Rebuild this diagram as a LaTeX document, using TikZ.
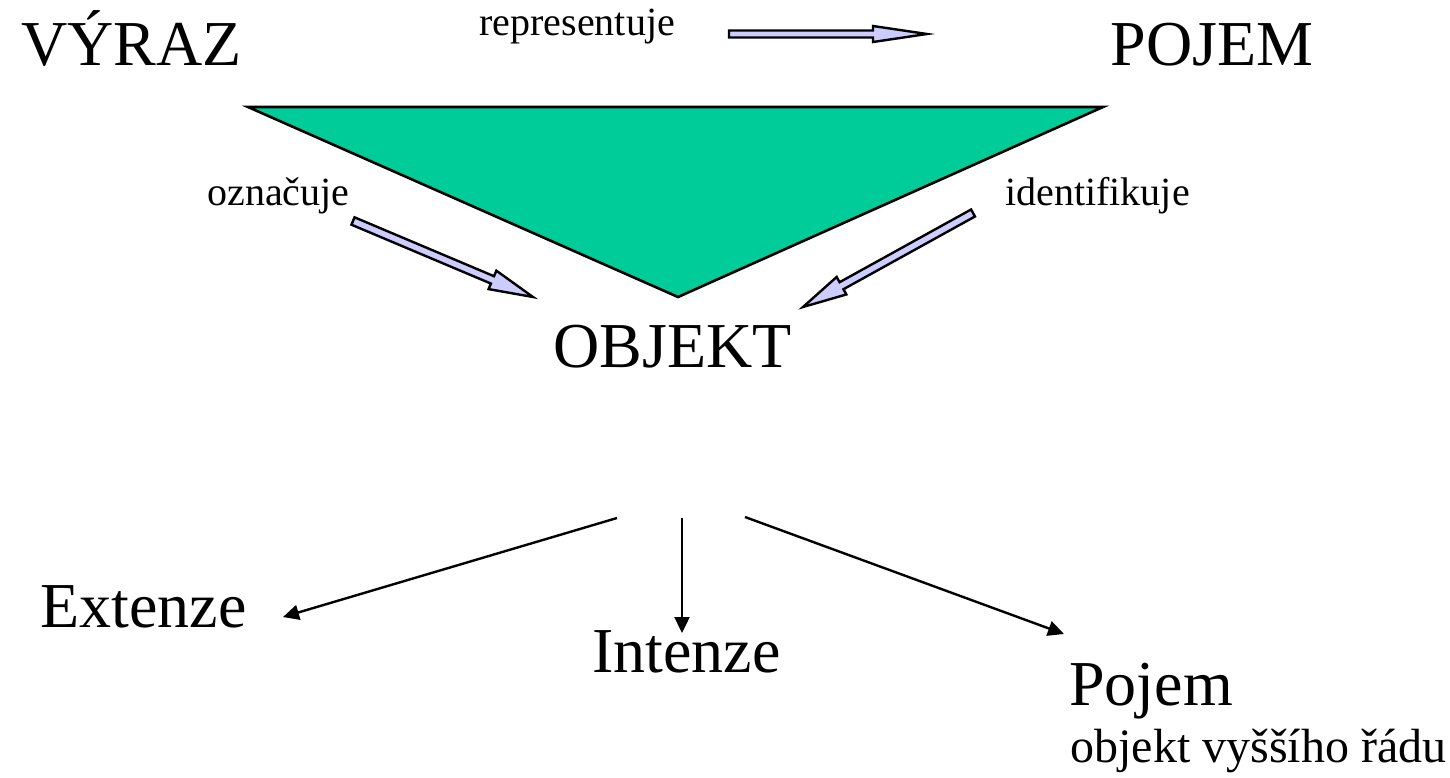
\documentclass[tikz,border=0pt]{standalone}
\usepackage{fontspec}
\setmainfont{Liberation Serif}
\usetikzlibrary{calc,arrows.meta}

\definecolor{triteal}{HTML}{00CC99}
\definecolor{arrowlav}{HTML}{CCCCFF}

% block arrow from (#1) to (#2): shaft half-width #3, head half-width #4, head length #5
\newcommand{\blockarrow}[5]{%
  \coordinate (#1-#2-h) at ($(#2)!#5!(#1)$);
  \draw[blockarrowstyle]
    ($(#1)!#3!90:(#2)$) -- ($(#1-#2-h)!#3!90:(#2)$) -- ($(#1-#2-h)!#4!90:(#2)$)
    -- (#2) -- ($(#1-#2-h)!#4!-90:(#2)$) -- ($(#1-#2-h)!#3!-90:(#2)$)
    -- ($(#1)!#3!-90:(#2)$) -- cycle;
}

\tikzset{
  bigtext/.style={inner sep=0pt, anchor=base west, font=\fontsize{32}{38}\selectfont},
  smalltext/.style={inner sep=0pt, anchor=base west, font=\fontsize{20}{24}\selectfont},
  notetext/.style={inner sep=0pt, anchor=base west, font=\fontsize{24}{29}\selectfont},
  blockarrowstyle/.style={draw=black, line width=1.2pt, fill=arrowlav, line join=miter},
  thinarrow/.style={draw=black, line width=1.2pt, -{Triangle[length=8pt,width=7.5pt]}},
}

\begin{document}
\begin{tikzpicture}[x=0.5pt, y=-0.5pt]
  \useasboundingbox (0,0) rectangle (1450,777);

  % shaded triangle between the three terms
  \coordinate (triL) at (248,107);
  \coordinate (triR) at (1103,107);
  \coordinate (triB) at (678,297);
  \draw[line width=1.3pt, fill=triteal, line join=miter] (triL) -- (triR) -- (triB) -- cycle;

  % top row
  \node[bigtext] (vyraz) at (21,65) {VÝRAZ};
  \node[bigtext] (pojemtop) at (1110,65) {POJEM};
  \node[smalltext] (repr) at (479,35) {representuje};

  % side labels
  \node[smalltext] (oznac) at (207,205) {označuje};
  \node[smalltext] (ident) at (1005,205) {identifikuje};

  % centre
  \node[bigtext] (objekt) at (553,367) {OBJEKT};

  % bottom row
  \node[bigtext] (ext) at (40,627) {Extenze};
  \node[bigtext] (int) at (592,672) {Intenze};
  \node[bigtext] (pojem) at (1069,705) {Pojem};
  \node[notetext] (vyssi) at (1070,762) {objekt vyššího řádu};

  % block arrows
  \coordinate (ra) at (729,34);
  \coordinate (rb) at (927,34);
  \blockarrow{ra}{rb}{1.75pt}{4pt}{27pt}

  \coordinate (oa) at (353,221);
  \coordinate (ob) at (533,297);
  \blockarrow{oa}{ob}{2pt}{5pt}{22pt}

  \coordinate (ia) at (973,213);
  \coordinate (ib) at (803,307);
  \blockarrow{ia}{ib}{2pt}{5pt}{22pt}

  % arrows from OBJEKT to its three aspects
  \coordinate (s1) at (617,518);
  \coordinate (t1) at (283,617);
  \coordinate (s2) at (682,518);
  \coordinate (t2) at (682,633);
  \coordinate (s3) at (745,517);
  \coordinate (t3) at (1064,634);
  \draw[thinarrow] (s1) -- (t1);
  \draw[thinarrow] (s2) -- (t2);
  \draw[thinarrow] (s3) -- (t3);
\end{tikzpicture}
\end{document}
